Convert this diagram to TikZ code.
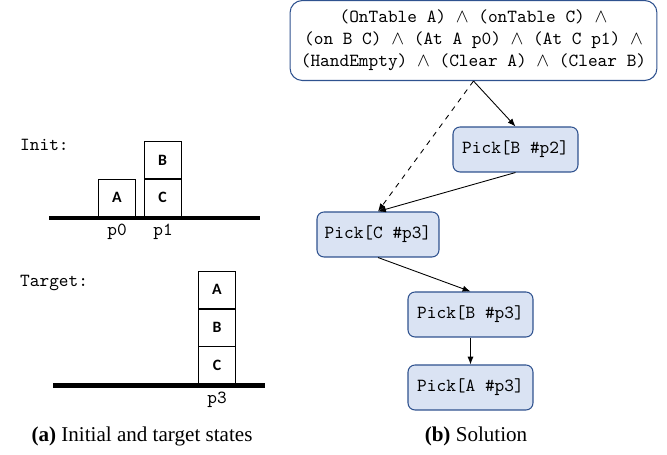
\documentclass[tikz,border=0pt]{standalone}
\usepackage{amsmath,amssymb}
\usepackage{fontspec}
\setmainfont{Liberation Serif}
\newfontfamily\blkfont{Carlito}
\usepackage{tikz}
\usetikzlibrary{shapes,arrows,positioning,calc,arrows.meta}
\definecolor{pickfill}{HTML}{DAE3F3}
\definecolor{pickline}{HTML}{2F528F}
\tikzset{
  blk/.style={draw, minimum size=0.74cm, inner sep=0pt, line width=0.5pt,
    font=\blkfont\bfseries\fontsize{9}{10}\selectfont},
  ground/.style={line width=2.3pt},
  mono/.style={font=\ttfamily\fontsize{10.5}{12.6}\selectfont},
  act/.style={mono, draw=pickline, fill=pickfill, line width=0.6pt, rounded corners=4pt,
    minimum width=2.5cm, minimum height=0.9cm},
  subcap/.style={font=\fontsize{12}{14}\selectfont},
  edge/.style={line width=0.5pt, -{Latex[length=4.5pt,width=3.5pt]}},
}

\begin{document}
\begin{tikzpicture}[x=0.02cm, y=-0.02cm]
        \useasboundingbox (0,0) rectangle (667,455);
        % initial state
        \node[mono, anchor=west] (init) at (14,145) {Init:};
        \draw[ground] (49,218) -- (260,218);
        \node[blk, anchor=south] (ia) at (117,216.8) {A};
        \node[blk, anchor=south] (ic) at (162.5,216.8) {C};
        \node[blk, above=0pt of ic] (ib) {B};
        \node[mono] (p0) at (117,232) {p0};
        \node[mono] (p1) at (163,232) {p1};
        % target state
        \node[mono, anchor=west] (target) at (14,283) {Target:};
        \draw[ground] (53,385.5) -- (265,385.5);
        \node[blk, anchor=south] (tc) at (217,384.3) {C};
        \node[blk, above=0pt of tc] (tb) {B};
        \node[blk, above=0pt of tb] (ta) {A};
        \node[mono] (p3) at (217,400) {p3};
        \node[subcap] (capa) at (142,436) {\textbf{(a)} Initial and target states};
        % solution
        \node[mono, draw=pickline, line width=0.6pt, rounded corners=7pt, align=center,
          minimum width=7.34cm, minimum height=1.6cm] (goal) at (473.5,40.5)
          {(OnTable A) $\wedge$ (onTable C) $\wedge$\\
           (on B C) $\wedge$ (At A p0) $\wedge$ (At C p1) $\wedge$\\
           (HandEmpty) $\wedge$ (Clear A) $\wedge$ (Clear B)};
        \node[act] (pb2) at (515.5,149.5) {Pick[B \#p2]};
        \node[act, minimum width=2.44cm] (pc3) at (378,234.5) {Pick[C \#p3]};
        \node[act] (pb3) at (470.5,314.5) {Pick[B \#p3]};
        \node[act] (pa3) at (470.5,387.5) {Pick[A \#p3]};
        \draw[edge] (goal.south) -- (pb2.north);
        \draw[edge, dashed] (goal.south) -- (pc3.north);
        \draw[edge] (pb2.south) -- (pc3.north);
        \draw[edge] (pc3.south) -- (pb3.north);
        \draw[edge] (pb3.south) -- (pa3.north);
        \node[subcap] (capb) at (476,436) {\textbf{(b)} Solution};
    \end{tikzpicture}
\end{document}
